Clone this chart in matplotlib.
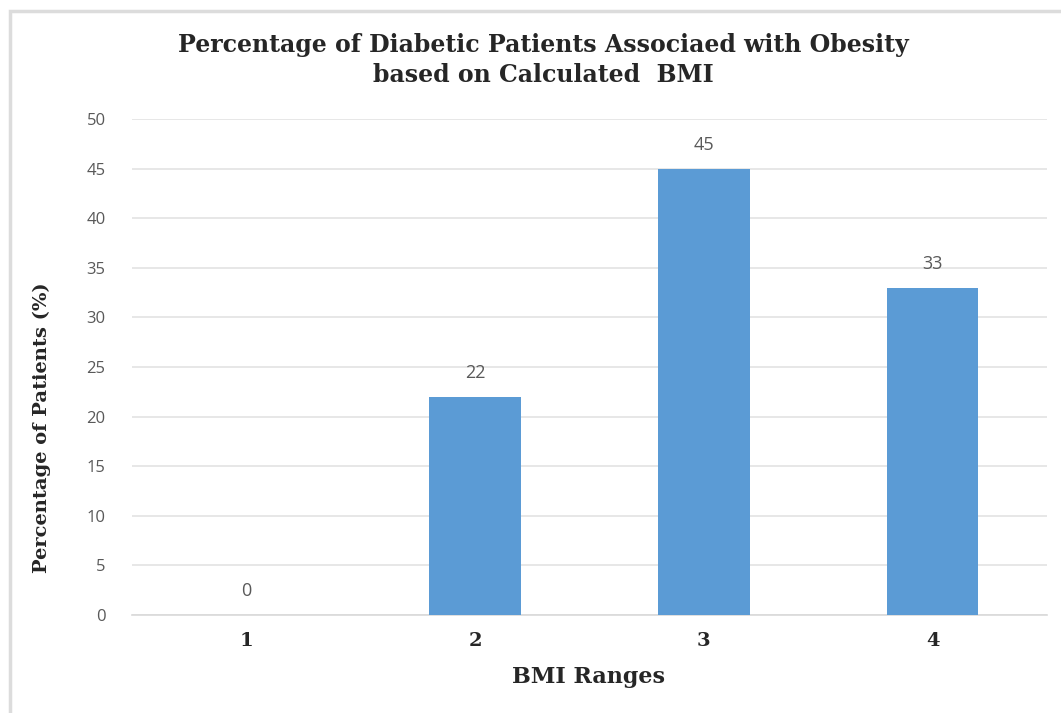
import matplotlib.pyplot as plt
from matplotlib.patches import Rectangle

# Data
categories = ['1', '2', '3', '4']
values = [0, 22, 45, 33]
y_ticks = [0, 5, 10, 15, 20, 25, 30, 35, 40, 45, 50]

W, H = 1061, 713
fig = plt.figure(figsize=(W / 100, H / 100), dpi=100)

# light frame around the chart
fig.patches.append(Rectangle((10 / W, -0.05), 1.2, 1 - 11 / H + 0.05,
                             transform=fig.transFigure, fill=False,
                             edgecolor='#dcdcdc', linewidth=2.5))

ax = fig.add_axes([132 / W, 1 - 615 / H, (1047 - 132) / W, (615 - 119) / H])

x = range(len(categories))
ax.bar(x, values, width=0.4, color='#5b9bd5', zorder=3)

for xi, v in zip(x, values):
    ax.text(xi, v + 1.5, str(v), ha='center', va='bottom',
            fontsize=13, color='#595959', family='Open Sans')

serif = 'DejaVu Serif'
ax.set_xlim(-0.5, 3.5)
ax.set_ylim(0, 50)
ax.set_yticks(y_ticks)
ax.set_xticks(list(x))
ax.set_xticklabels(categories, family=serif, fontweight='bold',
                   fontsize=14, color='#262626')
for lab in ax.get_yticklabels():
    lab.set_family('Open Sans')
    lab.set_fontsize(12)
    lab.set_color('#595959')
ax.tick_params(axis='both', length=0)
ax.tick_params(axis='y', pad=19)
ax.tick_params(axis='x', pad=12)
ax.grid(axis='y', color='#e3e3e3', linewidth=1.2, zorder=0)
for s in ['top', 'right', 'left']:
    ax.spines[s].set_visible(False)
ax.spines['bottom'].set_color('#d9d9d9')
ax.spines['bottom'].set_linewidth(1.2)

ax.set_xlabel('BMI Ranges', family=serif, fontweight='bold',
              fontsize=16, color='#262626')
ax.xaxis.set_label_coords((588 - 132) / (1047 - 132), -(666 - 615) / 496)
ax.set_ylabel('Percentage of Patients (%)', family=serif,
              fontweight='bold', fontsize=14, color='#262626')
ax.yaxis.set_label_coords(-(132 - 51) / (1047 - 132), (615 - 428) / 496)

fig.text(543 / W, 1 - 60 / H,
         'Percentage of Diabetic Patients Associaed with Obesity\nbased on Calculated  BMI',
         ha='center', va='center', family=serif, fontweight='bold',
         fontsize=17, color='#262626', linespacing=1.3)

fig.savefig('out.png', dpi=100)
